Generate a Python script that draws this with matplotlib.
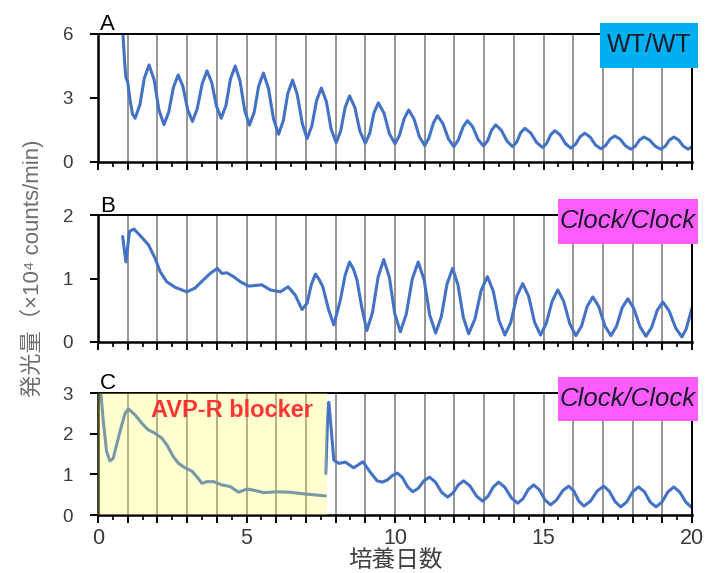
import matplotlib
matplotlib.use('Agg')
import matplotlib.pyplot as plt
from matplotlib.ticker import MultipleLocator, FuncFormatter
from matplotlib.patches import Rectangle

plt.rcParams['font.family'] = ['Liberation Sans', 'Noto Sans CJK JP', 'DejaVu Sans']

# ---- data (day, x10^4 counts/min) ----
a_day = [0.84, 0.90, 0.94, 1.00, 1.08, 1.16, 1.25, 1.41, 1.56, 1.72, 1.89, 2.05,
         2.22, 2.38, 2.54, 2.70, 2.86, 3.02, 3.18, 3.34, 3.51, 3.67, 3.83, 3.99,
         4.15, 4.31, 4.46, 4.62, 4.78, 4.94, 5.10, 5.26, 5.41, 5.57, 5.74, 5.91,
         6.08, 6.24, 6.39, 6.55, 6.71, 6.88, 7.04, 7.20, 7.36, 7.52, 7.69, 7.85,
         8.02, 8.17, 8.32, 8.47, 8.65, 8.82, 9.00, 9.15, 9.29, 9.44, 9.63, 9.81,
         10.00, 10.15, 10.31, 10.46, 10.64, 10.82, 11.00, 11.14, 11.29, 11.43, 11.61, 11.80,
         11.98, 12.13, 12.29, 12.44, 12.62, 12.80, 12.98, 13.12, 13.25, 13.39, 13.58, 13.77,
         13.96, 14.10, 14.23, 14.37, 14.57, 14.77, 14.97, 15.11, 15.24, 15.38, 15.56, 15.74,
         15.92, 16.08, 16.23, 16.39, 16.57, 16.75, 16.93, 17.09, 17.24, 17.40, 17.58, 17.76,
         17.94, 18.09, 18.23, 18.38, 18.57, 18.76, 18.95, 19.10, 19.24, 19.39, 19.55, 19.71,
         19.87, 20.00]
a_val = [6.00, 4.60, 3.95, 3.75, 2.90, 2.25, 2.05, 2.68, 3.93, 4.55, 3.85, 2.45,
         1.75, 2.33, 3.50, 4.08, 3.54, 2.45, 1.90, 2.49, 3.68, 4.27, 3.72, 2.61,
         2.05, 2.66, 3.89, 4.50, 3.81, 2.42, 1.73, 2.34, 3.56, 4.17, 3.45, 2.02,
         1.30, 1.94, 3.21, 3.84, 3.16, 1.79, 1.10, 1.69, 2.88, 3.47, 2.83, 1.54,
         0.90, 1.45, 2.55, 3.10, 2.55, 1.44, 0.88, 1.35, 2.30, 2.77, 2.29, 1.33,
         0.85, 1.25, 2.04, 2.44, 2.02, 1.19, 0.77, 1.12, 1.82, 2.17, 1.81, 1.08,
         0.72, 1.03, 1.64, 1.94, 1.64, 1.05, 0.75, 1.00, 1.49, 1.74, 1.49, 0.98,
         0.72, 0.94, 1.37, 1.58, 1.36, 0.91, 0.68, 0.88, 1.27, 1.47, 1.27, 0.86,
         0.65, 0.83, 1.18, 1.35, 1.17, 0.80, 0.62, 0.77, 1.07, 1.22, 1.07, 0.76,
         0.60, 0.74, 1.03, 1.17, 1.03, 0.74, 0.60, 0.74, 1.03, 1.17, 1.03, 0.74,
         0.60, 0.72]

b_day = [0.83, 0.94, 1.06, 1.21, 1.47, 1.70, 1.92, 2.09, 2.31, 2.60, 2.99, 3.27,
         3.55, 3.78, 4.02, 4.17, 4.34, 4.56, 4.79, 5.07, 5.30, 5.52, 5.80, 6.14,
         6.40, 6.64, 6.87, 7.04, 7.18, 7.32, 7.45, 7.57, 7.77, 7.94, 8.16, 8.32,
         8.47, 8.60, 8.72, 8.88, 9.05, 9.24, 9.43, 9.62, 9.81, 9.99,
         10.18, 10.38, 10.58, 10.78, 10.98, 11.17, 11.37, 11.56, 11.75, 11.94, 12.12, 12.30,
         12.48, 12.69, 12.90, 13.11, 13.31, 13.50, 13.70, 13.90, 14.10, 14.30, 14.50, 14.70,
         14.90, 15.09, 15.29, 15.48, 15.68, 15.89, 16.09, 16.28, 16.47, 16.66, 16.86, 17.07,
         17.27, 17.46, 17.65, 17.84, 18.04, 18.25, 18.45, 18.64, 18.83, 19.02, 19.23, 19.45,
         19.66, 19.80, 19.92, 20.00]
b_val = [1.66, 1.26, 1.74, 1.78, 1.65, 1.53, 1.32, 1.11, 0.95, 0.86, 0.79, 0.85,
         0.98, 1.08, 1.16, 1.08, 1.09, 1.03, 0.95, 0.88, 0.89, 0.90, 0.82, 0.79,
         0.87, 0.74, 0.51, 0.61, 0.90, 1.07, 0.98, 0.87, 0.50, 0.27, 0.66, 1.05,
         1.26, 1.15, 0.98, 0.55, 0.18, 0.46, 1.02, 1.30, 1.02, 0.45,
         0.16, 0.44, 0.99, 1.26, 0.98, 0.42, 0.14, 0.40, 0.91, 1.16, 0.90, 0.39,
         0.13, 0.36, 0.81, 1.03, 0.80, 0.34, 0.11, 0.31, 0.72, 0.92, 0.72, 0.31,
         0.11, 0.29, 0.64, 0.82, 0.64, 0.28, 0.10, 0.25, 0.56, 0.71, 0.56, 0.25,
         0.10, 0.25, 0.54, 0.68, 0.53, 0.24, 0.09, 0.23, 0.50, 0.63, 0.49, 0.22,
         0.08, 0.20, 0.40, 0.54]

# panel C: while the AVP-R blocker is present, then after washout
c1_day = [0.10, 0.18, 0.29, 0.40, 0.51, 0.74, 0.91, 1.02, 1.25, 1.53, 1.70, 1.92,
          2.15, 2.32, 2.54, 2.71, 2.93, 3.16, 3.33, 3.50, 3.67, 3.89, 4.17, 4.45,
          4.73, 5.02, 5.24, 5.58, 6.03, 6.47, 6.92, 7.37, 7.66]
c1_val = [2.97, 2.29, 1.56, 1.33, 1.39, 2.05, 2.50, 2.61, 2.46, 2.21, 2.09, 2.01,
          1.89, 1.72, 1.43, 1.27, 1.16, 1.08, 0.94, 0.78, 0.82, 0.82, 0.74, 0.70,
          0.56, 0.64, 0.61, 0.55, 0.57, 0.56, 0.52, 0.49, 0.47]
c2_day = [7.67, 7.73, 7.77, 7.85, 7.94, 8.11, 8.33, 8.61, 8.92, 9.17, 9.40, 9.57,
          9.74, 9.91, 10.08, 10.25, 10.43, 10.60, 10.79, 10.97, 11.16, 11.36, 11.57, 11.77,
          11.95, 12.13, 12.31, 12.52, 12.74, 12.95, 13.13, 13.31, 13.49, 13.70, 13.92, 14.13,
          14.31, 14.49, 14.67, 14.86, 15.05, 15.24, 15.44, 15.65, 15.85, 16.02, 16.19, 16.36,
          16.58, 16.81, 17.03, 17.22, 17.41, 17.60, 17.80, 18.00, 18.20, 18.40, 18.59, 18.79,
          18.99, 19.19, 19.39, 19.59, 19.80, 20.00]
c2_val = [1.02, 2.38, 2.77, 2.13, 1.35, 1.27, 1.30, 1.16, 1.31, 1.05, 0.84, 0.81,
          0.86, 0.97, 1.03, 0.92, 0.69, 0.57, 0.66, 0.84, 0.93, 0.81, 0.56, 0.44,
          0.54, 0.74, 0.84, 0.72, 0.47, 0.34, 0.46, 0.69, 0.81, 0.68, 0.42, 0.29,
          0.40, 0.63, 0.74, 0.62, 0.37, 0.25, 0.37, 0.60, 0.71, 0.59, 0.34, 0.22,
          0.34, 0.59, 0.71, 0.58, 0.33, 0.20, 0.32, 0.57, 0.69, 0.57, 0.32, 0.20,
          0.32, 0.57, 0.69, 0.56, 0.31, 0.18]
blocker_end = 7.72

panel_letters = ['A', 'B', 'C']
genotypes = ['WT/WT', 'Clock/Clock', 'Clock/Clock']
y_max = [6, 2, 3]
y_step = [3, 1, 1]

# ---- layout (pixel geometry of the reference, 707x573) ----
W, H = 707, 573
LINE = '#4472C4'
GRID = '#959595'


def fig_rect(x0, y0, x1, y1):
    return (x0 / W, 1 - y1 / H, (x1 - x0) / W, (y1 - y0) / H)


fig = plt.figure(figsize=(W / 100, H / 100), dpi=100)
axes = [fig.add_axes(fig_rect(98, 34, 692, 162)),
        fig.add_axes(fig_rect(98, 215, 692, 342)),
        fig.add_axes(fig_rect(98, 393, 692, 515))]

for i, ax in enumerate(axes):
    ax.set_xlim(0, 20)
    ax.set_ylim(0, y_max[i])
    ax.yaxis.set_major_locator(MultipleLocator(y_step[i]))
    ax.xaxis.set_major_locator(MultipleLocator(1))
    ax.xaxis.set_minor_locator(MultipleLocator(0.5))
    ax.grid(axis='x', which='major', color=GRID, lw=1.4)
    ax.set_axisbelow(True)
    for s in ax.spines.values():
        s.set_linewidth(1.4)
        s.set_color('black')
    ax.spines['left'].set_linewidth(1.8)
    ax.spines['bottom'].set_linewidth(1.8)
    ax.tick_params(axis='x', which='major', direction='out', length=6, width=1.4, pad=3.5)
    ax.tick_params(axis='x', which='minor', direction='out', length=3.6, width=1.2)
    ax.tick_params(axis='y', direction='out', length=6, width=1.4, pad=12,
                   labelsize=13.5, labelcolor='#3a3a3a')
    if i < 2:
        ax.tick_params(axis='x', labelbottom=False)
    fig.text(100 / W, 1 - [30, 212, 389][i] / H, panel_letters[i], fontsize=16,
             va='baseline', ha='left')

line_kw = dict(color=LINE, lw=2.2, zorder=2, solid_joinstyle='round',
               solid_capstyle='round')
axes[0].plot(a_day, a_val, **line_kw)
axes[1].plot(b_day, b_val, **line_kw)
axes[2].plot(c1_day, c1_val, **line_kw)
axes[2].plot(c2_day, c2_val, **line_kw)
axes[2].axvspan(0, blocker_end, color='#FFFF55', alpha=0.28, lw=0, zorder=3)
axes[2].text(4.52, 2.56, 'AVP-R blocker', color='#FF3535', fontsize=17,
             fontweight='bold', ha='center', va='center', zorder=4)

axes[2].xaxis.set_major_formatter(
    FuncFormatter(lambda v, p: '%d' % v if v % 5 == 0 else ''))
axes[2].tick_params(axis='x', labelsize=15.5, labelcolor='#3a3a3a')
axes[2].set_xlabel('培養日数', fontsize=17, color='#404040', va='center')
axes[2].xaxis.set_label_coords(0.5, -0.375)

fig.text(32 / W, 1 - 268 / H, '発光量（×10⁴ counts/min)', rotation=90,
         ha='center', va='center', fontsize=16, color='#6e6e6e')

# genotype boxes
boxes = [(600, 23, 698, 68, '#00B0F0'),
         (558, 199, 698, 244, '#FF5CFF'),
         (558, 377, 698, 421, '#FF5CFF')]
for i, (x0, y0, x1, y1, col) in enumerate(boxes):
    r = fig_rect(x0, y0, x1, y1)
    fig.add_artist(Rectangle((r[0], r[1]), r[2], r[3], transform=fig.transFigure,
                             facecolor=col, edgecolor='none', zorder=5))
    fig.text(r[0] + r[2] / 2, r[1] + r[3] / 2, genotypes[i], ha='center', va='center',
             fontsize=18.5 if i else 18, color='#1a1a2a',
             style='italic' if i else 'normal', zorder=6)

fig.savefig('out.png', dpi=100)
